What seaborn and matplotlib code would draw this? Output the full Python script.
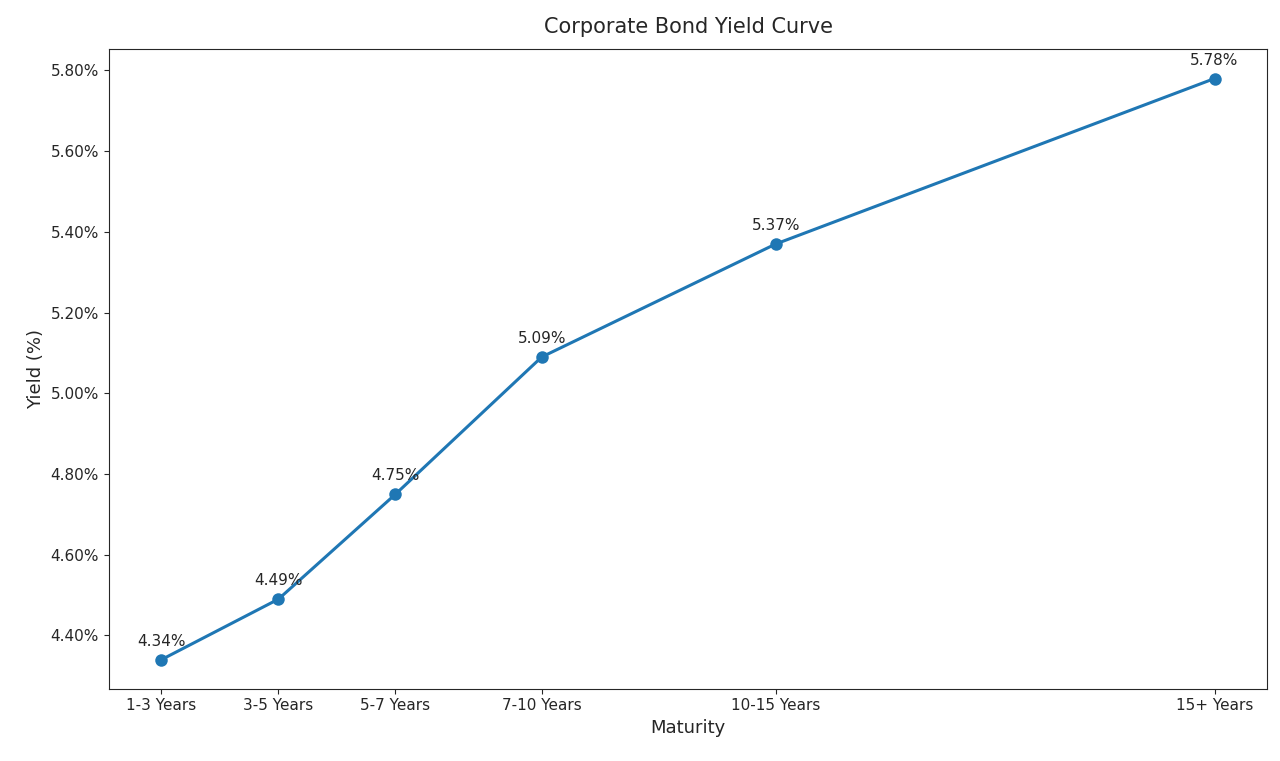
import matplotlib
matplotlib.use("Agg")
import matplotlib.pyplot as plt
import seaborn as sns
import pandas as pd
from matplotlib.ticker import FuncFormatter

maturity_labels = ["1-3 Years", "3-5 Years", "5-7 Years", "7-10 Years", "10-15 Years", "15+ Years"]
maturity_years = [2, 4, 6, 8.5, 12.5, 20]
yields = [4.34, 4.49, 4.75, 5.09, 5.37, 5.78]

df = pd.DataFrame({"years": maturity_years, "yield": yields, "label": maturity_labels})

sns.set_style("ticks")
fig, ax = plt.subplots(figsize=(12.8, 7.61), dpi=100)
sns.lineplot(data=df, x="years", y="yield", ax=ax, color="#1f77b4", linewidth=2.2,
             marker="o", markersize=9, markeredgewidth=0)

for x, y in zip(df["years"], df["yield"]):
    ax.annotate(f"{y:.2f}%", (x, y), xytext=(0, 10), textcoords="offset points",
                ha="center", fontsize=11)

ax.set_xticks(maturity_years)
ax.set_xticklabels(maturity_labels, fontsize=11)
ax.yaxis.set_major_formatter(FuncFormatter(lambda v, _: f"{v:.2f}%"))
ax.tick_params(axis="y", labelsize=11)
ax.set_xlabel("Maturity", fontsize=13)
ax.set_ylabel("Yield (%)", fontsize=13)
ax.set_title("Corporate Bond Yield Curve", fontsize=15, pad=12)

fig.subplots_adjust(left=0.085, right=0.99, top=0.935, bottom=0.095)
fig.savefig("out.png", dpi=100)
